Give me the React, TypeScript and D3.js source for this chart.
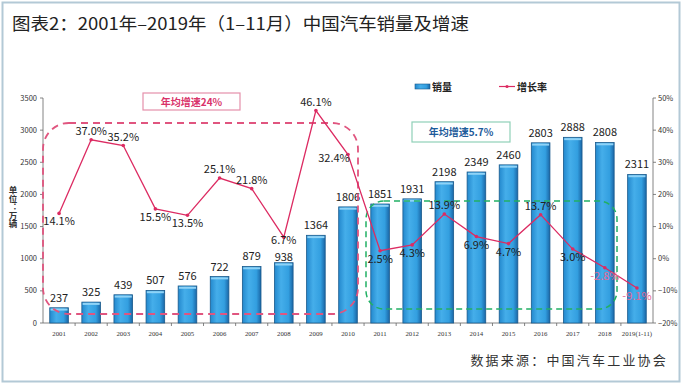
import React from 'react';
import * as d3 from 'd3';

const years = ['2001', '2002', '2003', '2004', '2005', '2006', '2007', '2008', '2009', '2010',
  '2011', '2012', '2013', '2014', '2015', '2016', '2017', '2018', '2019(1-11)'];
const sales = [237, 325, 439, 507, 576, 722, 879, 938, 1364, 1806,
  1851, 1931, 2198, 2349, 2460, 2803, 2888, 2808, 2311];
const growth = [14.1, 37.0, 35.2, 15.5, 13.5, 25.1, 21.8, 6.7, 46.1, 32.4,
  2.5, 4.3, 13.9, 6.9, 4.7, 13.7, 3.0, -2.8, -9.1];
// where each growth label sits relative to its point
const growthLabelPos = ['below', 'above', 'above', 'below', 'below', 'above', 'above', 'under', 'above', 'left',
  'below', 'below', 'above', 'below', 'below', 'above', 'below', 'below', 'below'];
const salesTicks = [0, 500, 1000, 1500, 2000, 2500, 3000, 3500];
const growthTicks = [-20, -10, 0, 10, 20, 30, 40, 50];

const W = 683;
const H = 387;
const left = 43;
const right = 653;
const top = 98;
const bottom = 323;

const LINE = '#dc2b62';
const FONT = '"Noto Sans CJK SC", "Noto Sans", sans-serif';

export default function App() {
  const x = d3.scaleBand<string>().domain(years).range([left, right]).paddingInner(0.42).paddingOuter(0.21);
  const yL = d3.scaleLinear().domain([0, 3500]).range([bottom, top]);
  const yR = d3.scaleLinear().domain([-20, 50]).range([bottom, top]);
  const cx = (i: number) => (x(years[i]) ?? 0) + x.bandwidth() / 2;

  const line = d3.line<number>()
    .x((_, i) => cx(i))
    .y((d) => yR(d));

  const step = x.step();

  return (
    <svg width={W} height={H} style={{ position: 'absolute', left: 0, top: 0, background: '#fff' }}
      fontFamily={FONT}>
      <defs>
        <linearGradient id="barGrad" x1="0" x2="1" y1="0" y2="0">
          <stop offset="0" stopColor="#2388cd" />
          <stop offset="0.35" stopColor="#45aeea" />
          <stop offset="0.75" stopColor="#339fe0" />
          <stop offset="1" stopColor="#1a66a6" />
        </linearGradient>
      </defs>

      <rect x={2.5} y={2.5} width={677} height={379} fill="none" stroke="#b3c9d6" strokeWidth={2} />

      <text x={12} y={30} fontSize={17.5} fill="#222" textLength={457} lengthAdjust="spacingAndGlyphs">
        图表2：2001年–2019年（1–11月）中国汽车销量及增速
      </text>

      {/* legend */}
      <rect x={415} y={84} width={15} height={5} fill="url(#barGrad)" stroke="#1a5a8c" strokeWidth={0.6} />
      <text x={432} y={91} fontSize={10} fontWeight="bold" fill="#222">销量</text>
      <line x1={499} x2={515} y1={86.5} y2={86.5} stroke={LINE} strokeWidth={1.2} />
      <circle cx={507} cy={86.5} r={1.6} fill={LINE} />
      <text x={517} y={91} fontSize={10} fontWeight="bold" fill="#222">增长率</text>

      {/* unit label, vertical */}
      <text x={13} y={186} fontSize={8.5} fontWeight="bold" fill="#333"
        style={{ writingMode: 'vertical-rl' }}>单位：万辆</text>

      {/* left axis */}
      <line x1={left} x2={left} y1={top} y2={bottom} stroke="#666" strokeWidth={0.8} />
      {salesTicks.map((t) => (
        <g key={t}>
          <line x1={left - 3} x2={left} y1={yL(t)} y2={yL(t)} stroke="#666" strokeWidth={0.8} />
          <text x={37} y={yL(t) + 2.5} fontSize={7.5} textAnchor="end" fill="#333">{t}</text>
        </g>
      ))}

      {/* right axis */}
      <line x1={right} x2={right} y1={top} y2={bottom} stroke="#666" strokeWidth={0.8} />
      {growthTicks.map((t) => (
        <g key={t}>
          <line x1={right} x2={right + 3} y1={yR(t)} y2={yR(t)} stroke="#666" strokeWidth={0.8} />
          <text x={658} y={yR(t) + 2.5} fontSize={7.5} fill="#333">{t === 0 ? '0%' : `${t < 0 ? '−' : ''}${Math.abs(t)}%`}</text>
        </g>
      ))}

      {/* x axis */}
      <line x1={left} x2={right} y1={bottom} y2={bottom} stroke="#666" strokeWidth={0.8} />
      {years.map((yr, i) => (
        <g key={yr}>
          {i > 0 && <line x1={left + i * step} x2={left + i * step} y1={bottom} y2={bottom + 3} stroke="#666" strokeWidth={0.8} />}
          <text x={cx(i)} y={336} fontSize={6.8} textAnchor="middle" fill="#333"
            fontFamily='"Liberation Serif", serif'>{yr}</text>
        </g>
      ))}

      {/* bars */}
      {sales.map((v, i) => (
        <g key={years[i]}>
          <rect x={x(years[i])} y={yL(v)} width={x.bandwidth()} height={bottom - yL(v)}
            fill="url(#barGrad)" stroke="#1a5a8c" strokeWidth={0.8} />
          <rect x={(x(years[i]) ?? 0) + 0.8} y={yL(v) + 0.8} width={x.bandwidth() - 1.6} height={2}
            fill="#8fd3f7" />
          <text x={cx(i)} y={yL(v) - (growthLabelPos[i] === 'under' ? 2 : 6)} fontSize={11}
            textAnchor="middle" fill="#222">{v}</text>
        </g>
      ))}

      {/* dashed grouping boxes */}
      <rect x={43} y={123} width={315} height={191} rx={26} ry={26} fill="none"
        stroke="#e0557f" strokeWidth={1.8} strokeDasharray="7 5" />
      <rect x={366} y={201} width={251} height={108} rx={18} ry={18} fill="none"
        stroke="#22b064" strokeWidth={1.5} strokeDasharray="6 4" />

      <rect x={143} y={93} width={97} height={17} fill="#fff" stroke="#e590ab" strokeWidth={1.2} />
      <text x={191.5} y={105.5} fontSize={10} fontWeight="bold" textAnchor="middle" fill="#d9336a">年均增速24%</text>
      <rect x={412} y={122} width={98} height={20} fill="#fff" stroke="#8fd0b8" strokeWidth={1.2} />
      <text x={461} y={136} fontSize={10} fontWeight="bold" textAnchor="middle" fill="#1d5b9a">年均增速5.7%</text>

      {/* growth line */}
      <path d={line(growth) ?? ''} fill="none" stroke={LINE} strokeWidth={1.3} />
      {growth.map((g, i) => {
        const px = cx(i);
        const py = yR(g);
        const pos = growthLabelPos[i];
        const tx = pos === 'left' ? px - 14 : px;
        const ty = pos === 'above' ? py - 5 : pos === 'left' ? py + 7 : pos === 'under' ? py + 7 : py + 12;
        return (
          <g key={years[i]}>
            <circle cx={px} cy={py} r={1.8} fill={LINE} />
            <text x={tx} y={ty} fontSize={11} textAnchor="middle" fill={g < 0 ? '#e56a98' : '#222'}>
              {g.toFixed(1)}%
            </text>
          </g>
        );
      })}

      <text x={668} y={365} fontSize={13} textAnchor="end" fill="#333" letterSpacing={2.2}>
        数据来源：中国汽车工业协会
      </text>
    </svg>
  );
}
